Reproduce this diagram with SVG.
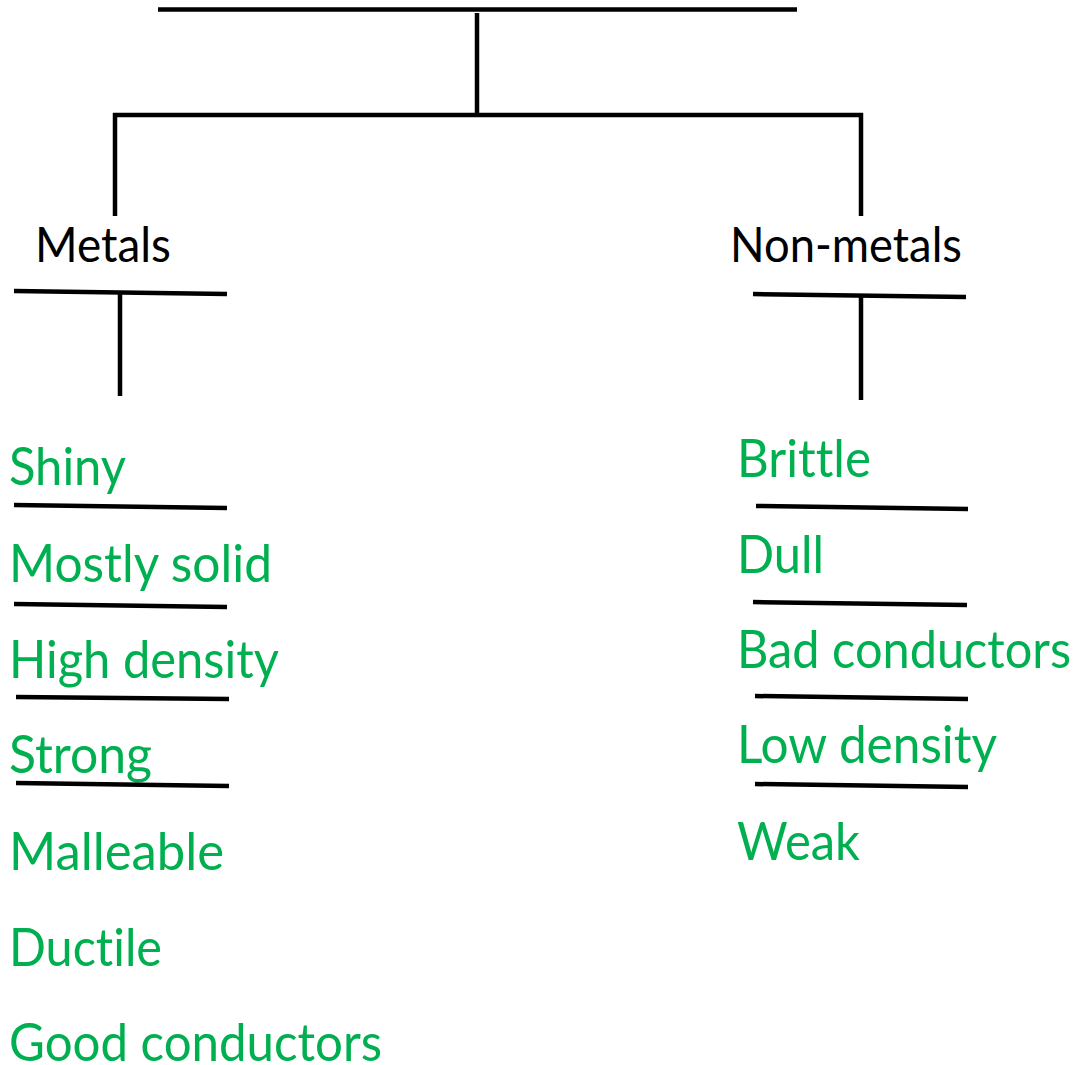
<svg xmlns="http://www.w3.org/2000/svg" width="1074" height="1065" viewBox="0 0 1074 1065">
  <style>
    .ln { stroke: #000; stroke-width: 4.5; fill: none; stroke-linecap: butt; }
    .hd, .it { font-family: Lato, "Liberation Sans", sans-serif; font-variant-ligatures: none; font-feature-settings: "liga" 0, "clig" 0; }
    .hd { font-size: 48px; fill: #000; }
    .it { font-size: 53px; fill: #00B050; }
  </style>
  <rect width="1074" height="1065" fill="#fff"/>

  <!-- tree connectors -->
  <g id="connectors">
    <line class="ln" x1="158" y1="9.5" x2="797" y2="9.5"/>
    <line class="ln" x1="477" y1="13" x2="477" y2="114"/>
    <line class="ln" x1="113" y1="115" x2="863" y2="115"/>
    <line class="ln" x1="115" y1="113" x2="115" y2="216"/>
    <line class="ln" x1="861" y1="113" x2="861" y2="216"/>
    <line class="ln" x1="14" y1="291" x2="227" y2="294"/>
    <line class="ln" x1="120" y1="294" x2="120" y2="396"/>
    <line class="ln" x1="753" y1="294" x2="966" y2="297"/>
    <line class="ln" x1="861" y1="297" x2="861" y2="400"/>
  </g>

  <!-- metals column -->
  <g id="metals">
    <text class="hd" x="35" y="262" textLength="136" lengthAdjust="spacingAndGlyphs">Metals</text>
    <text class="it" x="9" y="485" textLength="117" lengthAdjust="spacingAndGlyphs">Shiny</text>
    <line class="ln" x1="14" y1="505" x2="227" y2="508"/>
    <text class="it" x="9" y="582" textLength="263" lengthAdjust="spacingAndGlyphs">Mostly solid</text>
    <line class="ln" x1="14" y1="604" x2="227" y2="607"/>
    <text class="it" x="9" y="678" textLength="270" lengthAdjust="spacingAndGlyphs">High density</text>
    <line class="ln" x1="16" y1="697" x2="229" y2="699"/>
    <text class="it" x="9" y="773" textLength="143" lengthAdjust="spacingAndGlyphs">Strong</text>
    <line class="ln" x1="16" y1="783" x2="229" y2="786"/>
    <text class="it" x="9" y="870" textLength="215" lengthAdjust="spacingAndGlyphs">Malleable</text>
    <text class="it" x="9" y="966" textLength="153" lengthAdjust="spacingAndGlyphs">Ductile</text>
    <text class="it" x="9" y="1061" textLength="373" lengthAdjust="spacingAndGlyphs">Good conductors</text>
  </g>

  <!-- non-metals column -->
  <g id="non-metals">
    <text class="hd" x="730" y="262" textLength="232" lengthAdjust="spacingAndGlyphs">Non-metals</text>
    <text class="it" x="737" y="477" textLength="134" lengthAdjust="spacingAndGlyphs">Brittle</text>
    <line class="ln" x1="756" y1="506" x2="968" y2="509"/>
    <text class="it" x="737" y="573" textLength="87" lengthAdjust="spacingAndGlyphs">Dull</text>
    <line class="ln" x1="753" y1="602" x2="967" y2="605"/>
    <text class="it" x="737" y="668" textLength="334" lengthAdjust="spacingAndGlyphs">Bad conductors</text>
    <line class="ln" x1="755" y1="696" x2="968" y2="699"/>
    <text class="it" x="737" y="763" textLength="260" lengthAdjust="spacingAndGlyphs">Low density</text>
    <line class="ln" x1="755" y1="784" x2="968" y2="787"/>
    <text class="it" x="737" y="860" textLength="123" lengthAdjust="spacingAndGlyphs">Weak</text>
  </g>
</svg>
